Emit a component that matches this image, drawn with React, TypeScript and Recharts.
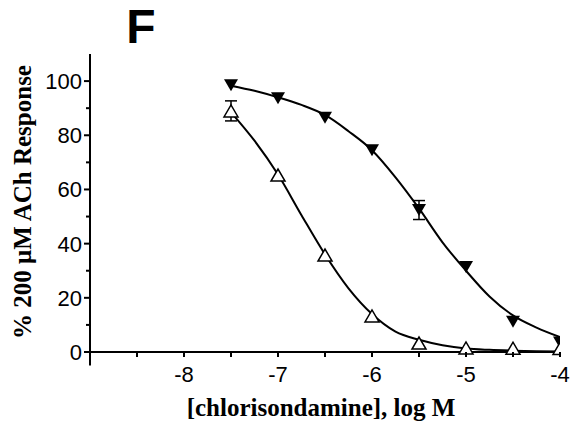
import { ComposedChart, Line, Scatter, ErrorBar, XAxis, YAxis, ReferenceLine } from 'recharts';

// measured points (log M)
const doses = [-7.5, -7, -6.5, -6, -5.5, -5, -4.5, -4];
const filledResp = [98.5, 93.7, 86.5, 74.5, 52.4, 31.4, 11.2, 3.5];
const filledErr = [null, null, null, null, 3.5, null, null, null];
const openResp = [89, 65.3, 35.8, 13.3, 3.3, 1.5, 1.4, 1.3];
const openErr = [3.7, null, null, null, null, null, null, null];

// fitted curves
const fitX = [-7.5, -7.25, -7, -6.75, -6.5, -6.25, -6, -5.75, -5.5, -5.25, -5, -4.75, -4.5, -4.25, -4];
const fitFilled = [98.3, 96.4, 94, 91.2, 87.5, 81.5, 74.5, 64.5, 53, 40.5, 30, 20.5, 13.5, 9, 5.5];
const fitOpen = [88.5, 78, 65.5, 50.5, 36, 23.5, 14, 7.5, 4.5, 2.5, 1.3, 0.8, 0.5, 0.3, 0.2];

const xTicks = [-8.5, -8, -7.5, -7, -6.5, -6, -5.5, -5, -4.5, -4];
const yTicks = [0, 10, 20, 30, 40, 50, 60, 70, 80, 90, 100];

const filledData = doses.map((x, i) => ({ x, y: filledResp[i], err: filledErr[i] }));
const openData = doses.map((x, i) => ({ x, y: openResp[i], err: openErr[i] }));
const filledCurve = fitX.map((x, i) => ({ x, y: fitFilled[i] }));
const openCurve = fitX.map((x, i) => ({ x, y: fitOpen[i] }));

const sans = '"Liberation Sans", Arial, sans-serif';
const serif = '"Liberation Serif", "Times New Roman", serif';

const XTick = ({ x, y, payload }: any) => {
  const major = Number.isInteger(payload.value);
  return (
    <g>
      <line x1={x} y1={y} x2={x} y2={y + 5} stroke="#000" strokeWidth={2} />
      {major && (
        <text x={x} y={y + 30} textAnchor="middle" fontSize={22} fontFamily={sans} fill="#000">
          {payload.value}
        </text>
      )}
    </g>
  );
};

const YTick = ({ x, y, payload }: any) => {
  const major = payload.value % 20 === 0;
  return (
    <g>
      <line x1={x - (major ? 6 : 4)} y1={y} x2={x} y2={y} stroke="#000" strokeWidth={2} />
      {major && (
        <text x={x - 8} y={y + 8} textAnchor="end" fontSize={22} fontFamily={sans} fill="#000">
          {payload.value}
        </text>
      )}
    </g>
  );
};

const DownTri = ({ cx, cy }: any) => (
  <path d={`M${cx - 7},${cy - 6} L${cx + 7},${cy - 6} L${cx},${cy + 6} Z`} fill="#000" />
);

const UpTri = ({ cx, cy }: any) => (
  <path
    d={`M${cx - 7},${cy + 6} L${cx + 7},${cy + 6} L${cx},${cy - 6} Z`}
    fill="#fff"
    stroke="#000"
    strokeWidth={1.5}
  />
);

export default function App() {
  return (
    <div style={{ position: 'absolute', left: 0, top: 0, width: 579, height: 425, background: '#fff' }}>
      <ComposedChart width={579} height={425} margin={{ top: 54, right: 19, bottom: 0, left: 0 }}>
        <XAxis
          type="number"
          dataKey="x"
          domain={[-9, -4]}
          ticks={xTicks}
          tick={<XTick />}
          tickLine={false}
          tickSize={0}
          tickMargin={0}
          height={73}
          axisLine={{ stroke: '#000', strokeWidth: 2 }}
          allowDataOverflow
          label={{
            content: () => (
              <text x={321} y={416} textAnchor="middle" fontSize={25} fontWeight="bold" fontFamily={serif} fill="#000">
                [chlorisondamine], log M
              </text>
            ),
          }}
        />
        <YAxis
          type="number"
          domain={[0, 110]}
          ticks={yTicks}
          tick={<YTick />}
          tickLine={false}
          tickSize={0}
          tickMargin={0}
          width={90}
          interval={0}
          axisLine={{ stroke: '#000', strokeWidth: 2 }}
          label={{
            content: () => (
              <g>
                <text
                  x={31}
                  y={202}
                  transform="rotate(-90, 31, 202)"
                  textAnchor="middle"
                  fontSize={25}
                  fontWeight="bold"
                  fontFamily={serif}
                  fill="#000"
                >
                  % 200 μM ACh Response
                </text>
                <text x={141} y={43} textAnchor="middle" fontSize={48} fontWeight="bold" fontFamily={sans} fill="#000">
                  F
                </text>
              </g>
            ),
          }}
        />
        <ReferenceLine
          segment={[{ x: -9, y: 0 }, { x: -9, y: -5 }]}
          ifOverflow="visible"
          stroke="#000"
          strokeWidth={2}
        />
        <Line
          data={filledCurve}
          dataKey="y"
          type="monotone"
          stroke="#000"
          strokeWidth={2}
          dot={false}
          isAnimationActive={false}
        />
        <Line
          data={openCurve}
          dataKey="y"
          type="monotone"
          stroke="#000"
          strokeWidth={2}
          dot={false}
          isAnimationActive={false}
        />
        <Scatter data={filledData} dataKey="y" shape={<DownTri />} isAnimationActive={false}>
          <ErrorBar dataKey="err" direction="y" width={6} stroke="#000" strokeWidth={1.5} />
        </Scatter>
        <Scatter data={openData} dataKey="y" shape={<UpTri />} isAnimationActive={false}>
          <ErrorBar dataKey="err" direction="y" width={6} stroke="#000" strokeWidth={1.5} />
        </Scatter>
      </ComposedChart>
    </div>
  );
}
